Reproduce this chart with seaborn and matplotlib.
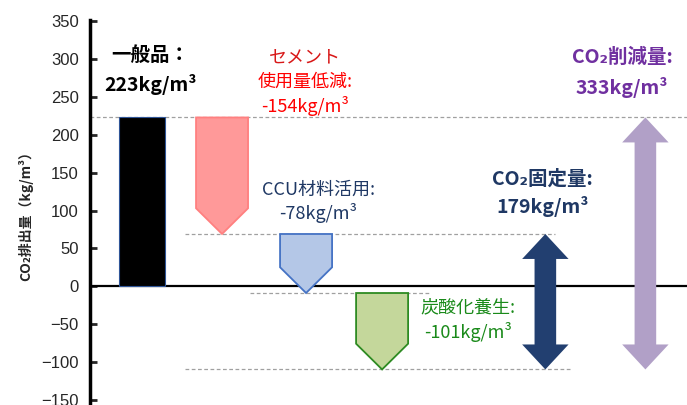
import seaborn as sns
import matplotlib.pyplot as plt
import pandas as pd
import numpy as np
from matplotlib.patches import Polygon

# data
base_label = '一般品'
base_value = 223
step_labels = ['セメント\n使用量低減', 'CCU材料活用', '炭酸化養生']
step_values = [-154, -78, -101]
fix_value = 179
reduction_value = 333
yticks = [-150, -100, -50, 0, 50, 100, 150, 200, 250, 300, 350]

sns.set_style('white')
plt.rcParams['font.family'] = ['Noto Sans CJK JP', 'DejaVu Sans']

fig = plt.figure(figsize=(6.87, 4.05), dpi=100)
ax = fig.add_axes([0.131, 0.0, 0.869, 0.951])

# base bar
df = pd.DataFrame({'x': [0], 'y': [base_value]})
sns.barplot(data=df, x='x', y='y', native_scale=True, width=0.575, color='black',
            edgecolor='#2f5597', linewidth=0.8, ax=ax, zorder=3)

# waterfall arrows
xs = [1, 2.05, 3.0]
fills = ['#ff9999', '#b4c7e7', '#c4d79b']
edges = ['#ff8080', '#4472c4', '#2e8b22']
hw = 0.325
tip = 34
level = base_value
levels = [level]
for x, v, fc, ec in zip(xs, step_values, fills, edges):
    top = level
    bot = level + v
    poly = Polygon([(x - hw, top), (x + hw, top), (x + hw, bot + tip), (x, bot),
                    (x - hw, bot + tip)], closed=True, facecolor=fc, edgecolor=ec,
                   linewidth=1.3, zorder=3)
    ax.add_patch(poly)
    level = bot
    levels.append(level)

final = levels[-1]


def double_arrow(x, y0, y1, color):
    sw, hwid, hl = 0.135, 0.29, 33
    pts = [(x, y1), (x + hwid, y1 - hl), (x + sw, y1 - hl), (x + sw, y0 + hl),
           (x + hwid, y0 + hl), (x, y0), (x - hwid, y0 + hl), (x - sw, y0 + hl),
           (x - sw, y1 - hl), (x - hwid, y1 - hl)]
    ax.add_patch(Polygon(pts, closed=True, facecolor=color, edgecolor='none', zorder=3))


double_arrow(5.04, final, final + fix_value, '#223f70')
double_arrow(6.29, base_value - reduction_value, base_value, '#b1a0c7')

# dashed guides
dash = dict(color='#a0a0a0', linestyle=(0, (3, 2)), linewidth=0.9, zorder=1)
ax.plot([-0.65, 6.81], [levels[0]] * 2, **dash)
ax.plot([0.54, 5.16], [levels[1]] * 2, **dash)
ax.plot([1.35, 3.6], [levels[2]] * 2, **dash)
ax.plot([0.54, 5.35], [levels[3]] * 2, **dash)

ax.axhline(0, color='black', linewidth=1.6, zorder=2)

# labels
unit = 'kg/m³'
bold = dict(fontweight='bold', ha='center', va='center')
reg = dict(fontsize=13, ha='center', va='center')
ax.text(0.1, 305, f'{base_label}：', fontsize=14, color='black', **bold)
ax.text(0.1, 267, f'{base_value}{unit}', fontsize=14, color='black', **bold)
ax.text(2.04, 302, step_labels[0].split('\n')[0], color='#d81818', **reg)
ax.text(2.04, 270, step_labels[0].split('\n')[1] + ':', color='#ff0000', **reg)
ax.text(2.04, 238, f'{step_values[0]}{unit}', color='#ff0000', **reg)
ax.text(2.2, 128, step_labels[1] + ':', color='#1f3864', **reg)
ax.text(2.2, 97, f'{step_values[1]}{unit}', color='#1f3864', **reg)
ax.text(4.07, -28, step_labels[2] + ':', color='#1a8a1a', **reg)
ax.text(4.07, -61, f'{step_values[2]}{unit}', color='#1a8a1a', **reg)
ax.text(5.0, 141, 'CO₂固定量:', fontsize=14, color='#1f3864', **bold)
ax.text(5.0, 105, f'{fix_value}{unit}', fontsize=14, color='#1f3864', **bold)
ax.text(6.0, 302, 'CO₂削減量:', fontsize=14, color='#7030a0', **bold)
ax.text(6.0, 263, f'{reduction_value}{unit}', fontsize=14, color='#7030a0', **bold)

ax.set_xlim(-0.65, 6.81)
ax.set_ylim(-157, 352)
ax.set_xticks([])
ax.set_yticks(yticks)
ax.set_yticklabels([str(t).replace('-', '−') for t in yticks], fontsize=12,
                   family=['Liberation Sans', 'DejaVu Sans'])
ax.set_xlabel('')
ax.set_ylabel('CO₂排出量（kg/m³）', fontsize=10, fontweight='bold', labelpad=6)
ax.tick_params(axis='y', direction='in', length=5, width=2, left=True, pad=8)
for s in ['top', 'right', 'bottom']:
    ax.spines[s].set_visible(False)
ax.spines['left'].set_linewidth(2.5)
ax.spines['left'].set_color('black')

fig.savefig('out.png', dpi=100)
